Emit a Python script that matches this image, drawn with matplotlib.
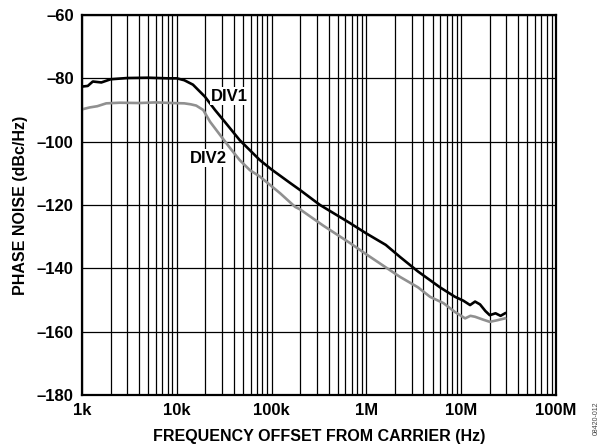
import numpy as np
import matplotlib.pyplot as plt
from matplotlib.ticker import FixedLocator, LogLocator, NullFormatter

plt.rcParams['font.family'] = ['Liberation Sans', 'DejaVu Sans']
plt.rcParams['font.weight'] = 'bold'
plt.rcParams['axes.labelweight'] = 'bold'

# DIV1 (black)
div1_f = [1e3, 1.15e3, 1.3e3, 1.6e3, 2e3, 3e3, 5e3, 8e3, 1e4, 1.2e4, 1.48e4,
          1.98e4, 2.53e4, 3.2e4, 4.6e4, 5.9e4, 7.5e4, 1.0e5, 1.56e5, 2.0e5,
          3.24e5, 6.7e5, 1.0e6, 1.6e6, 2.26e6, 3.5e6, 5.97e6, 8.6e6, 1.05e7,
          1.24e7, 1.4e7, 1.58e7, 1.8e7, 2.0e7, 2.3e7, 2.6e7, 2.9e7]
div1_db = [-82.6, -82.4, -81.0, -81.3, -80.3, -79.9, -79.8, -80.0, -80.0, -80.6,
           -82.0, -85.8, -90.0, -93.7, -99.5, -102.7, -105.8, -108.8, -113.0, -115.3,
           -120.0, -125.7, -129.0, -132.6, -136.4, -141.0, -146.0, -149.0, -150.2,
           -151.6, -150.5, -151.4, -153.5, -154.8, -154.2, -155.0, -154.2]

# DIV2 (grey)
div2_f = [1e3, 1.2e3, 1.45e3, 1.8e3, 2.5e3, 4e3, 6e3, 9e3, 1.2e4, 1.4e4, 1.6e4,
          1.9e4, 2.24e4, 2.86e4, 3.64e4, 4.6e4, 5.9e4, 7.5e4, 1.23e5, 1.77e5,
          2.0e5, 3.5e5, 6.7e5, 1.0e6, 2.26e6, 3.5e6, 4.69e6, 6.5e6, 8.6e6, 1.1e7,
          1.25e7, 1.4e7, 1.7e7, 2.0e7, 2.4e7, 2.9e7]
div2_db = [-89.8, -89.2, -88.8, -87.9, -87.7, -87.8, -87.6, -87.8, -87.9, -88.2,
           -88.6, -90.0, -93.7, -97.9, -102.0, -105.8, -109.0, -111.0, -116.3, -120.6,
           -121.4, -126.5, -132.0, -135.6, -142.7, -146.0, -149.0, -151.0, -153.8, -155.8,
           -155.0, -155.3, -156.2, -156.9, -156.4, -155.8]

yticks = [-180, -160, -140, -120, -100, -80, -60]
xticks = [1e3, 1e4, 1e5, 1e6, 1e7, 1e8]
xlabels = ['1k', '10k', '100k', '1M', '10M', '100M']

fig = plt.figure(figsize=(6, 4.44), dpi=100)
ax = fig.add_axes([0.1367, 0.1104, 0.79, 0.8558])

ax.semilogx(div2_f, div2_db, color='#909090', lw=1.9)
ax.semilogx(div1_f, div1_db, color='black', lw=1.9)

ax.set_xlim(1e3, 1e8)
ax.set_ylim(-180, -60)
ax.xaxis.set_major_locator(FixedLocator(xticks))
ax.xaxis.set_minor_locator(LogLocator(base=10, subs=np.arange(2, 10)))
ax.xaxis.set_minor_formatter(NullFormatter())
ax.set_xticks(xticks, xlabels)
ax.set_yticks(yticks, ['\u2013%d' % abs(v) for v in yticks])
ax.grid(True, which='both', axis='x', color='black', lw=0.9)
ax.grid(True, which='major', axis='y', color='black', lw=0.9)
ax.tick_params(which='both', length=0, labelsize=12, pad=6)
for s in ax.spines.values():
    s.set_linewidth(1.6)

ax.set_xlabel('FREQUENCY OFFSET FROM CARRIER (Hz)', fontsize=11.5, labelpad=8)
ax.set_ylabel('PHASE NOISE (dBc/Hz)', fontsize=11.5, labelpad=6)

box = dict(facecolor='white', edgecolor='none', pad=1)
ax.text(3.6e4, -85.6, 'DIV1', fontsize=12, ha='center', va='center', bbox=box)
ax.text(2.13e4, -105.2, 'DIV2', fontsize=12, ha='center', va='center', bbox=box)

fig.text(0.988, 0.02, '08420-012', rotation=90, fontsize=5, color='#444444',
         ha='left', va='bottom', fontweight='normal')

fig.savefig('out.png', dpi=100)
